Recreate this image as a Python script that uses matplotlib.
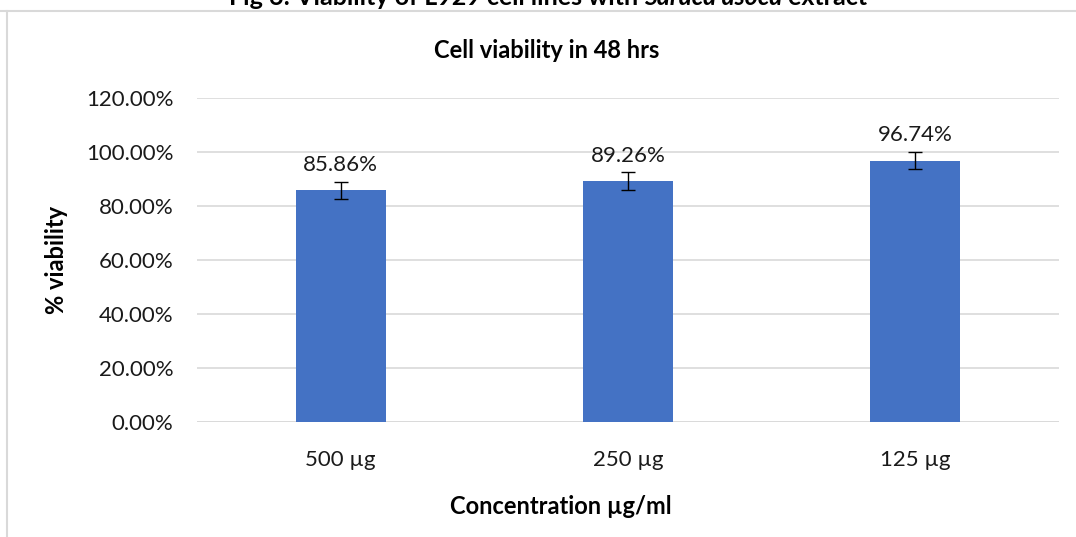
import matplotlib
matplotlib.use("Agg")
import matplotlib.pyplot as plt
from matplotlib.lines import Line2D
from matplotlib.ticker import FuncFormatter

categories = ["500 µg", "250 µg", "125 µg"]
viability = [0.8586, 0.8926, 0.9674]
errors = [0.032, 0.032, 0.032]
data_labels = ["85.86%", "89.26%", "96.74%"]
yticks = [0, 0.2, 0.4, 0.6, 0.8, 1.0, 1.2]

FONT = ["Lato", "DejaVu Sans"]
plt.rcParams["font.family"] = FONT

W, H = 1076, 537
fig = plt.figure(figsize=(W / 100, H / 100), dpi=100)
ax = fig.add_axes([197 / W, 1 - 422 / H, (1059 - 197) / W, (422 - 98) / H])

x = list(range(len(categories)))
ax.bar(x, viability, width=0.313, color="#4472C4", zorder=2)
ax.errorbar(x, viability, yerr=errors, fmt="none", ecolor="black",
            elinewidth=1.0, capsize=5, capthick=1.0, zorder=3)
for xi, v, e, lab in zip(x, viability, errors, data_labels):
    ax.text(xi, v + e + 0.025, lab, ha="center", va="bottom",
            fontsize=16, color="#1a1a1a")

ax.set_xlim(-0.5, len(categories) - 0.5)
ax.set_ylim(0, 1.2)
ax.set_yticks(yticks)
ax.yaxis.set_major_formatter(FuncFormatter(lambda v, p: f"{v*100:.2f}%"))
ax.set_xticks(x)
ax.set_xticklabels(categories)
ax.tick_params(axis="both", length=0, labelsize=16, colors="#1a1a1a")
ax.tick_params(axis="y", pad=17)
ax.tick_params(axis="x", pad=20)
ax.grid(axis="y", color="#d9d9d9", linewidth=1.2, zorder=0)
for s in ax.spines.values():
    s.set_visible(False)
ax.axhline(0, color="#d9d9d9", linewidth=1.2, zorder=1)

fig.text(547 / W, 1 - 50 / H, "Cell viability in 48 hrs", fontsize=17,
         fontweight="bold", ha="center", va="center")
fig.text(561 / W, 1 - 507 / H, "Concentration µg/ml", fontsize=17,
         fontweight="bold", ha="center", va="center")
fig.text(57 / W, 1 - 260 / H, "% viability", fontsize=17,
         fontweight="bold", ha="center", va="center", rotation=90)

# outer frame lines
fig.add_artist(Line2D([0, 1], [1 - 11 / H, 1 - 11 / H], transform=fig.transFigure,
                      color="#d9d9d9", linewidth=1.5))
fig.add_artist(Line2D([7 / W, 7 / W], [0, 1 - 11 / H], transform=fig.transFigure,
                      color="#d9d9d9", linewidth=1.5))

# cut-off figure caption at the top
parts = [("Fig 6: Viability of L929 cell lines with ", "normal"),
         ("Saraca asoca", "italic"),
         (" extract", "normal")]
fig.canvas.draw()
r = fig.canvas.get_renderer()
texts = []
widths = []
for s, st in parts:
    t = fig.text(0, 1 - 5 / H, s, fontsize=18, fontweight="bold", style=st,
                 va="baseline", ha="left")
    bb = t.get_window_extent(renderer=r)
    texts.append(t)
    widths.append(bb.width)
total = sum(widths)
start = 548 - total / 2
for t, w in zip(texts, widths):
    t.set_x(start / W)
    start += w

fig.savefig("out.png", dpi=100)
